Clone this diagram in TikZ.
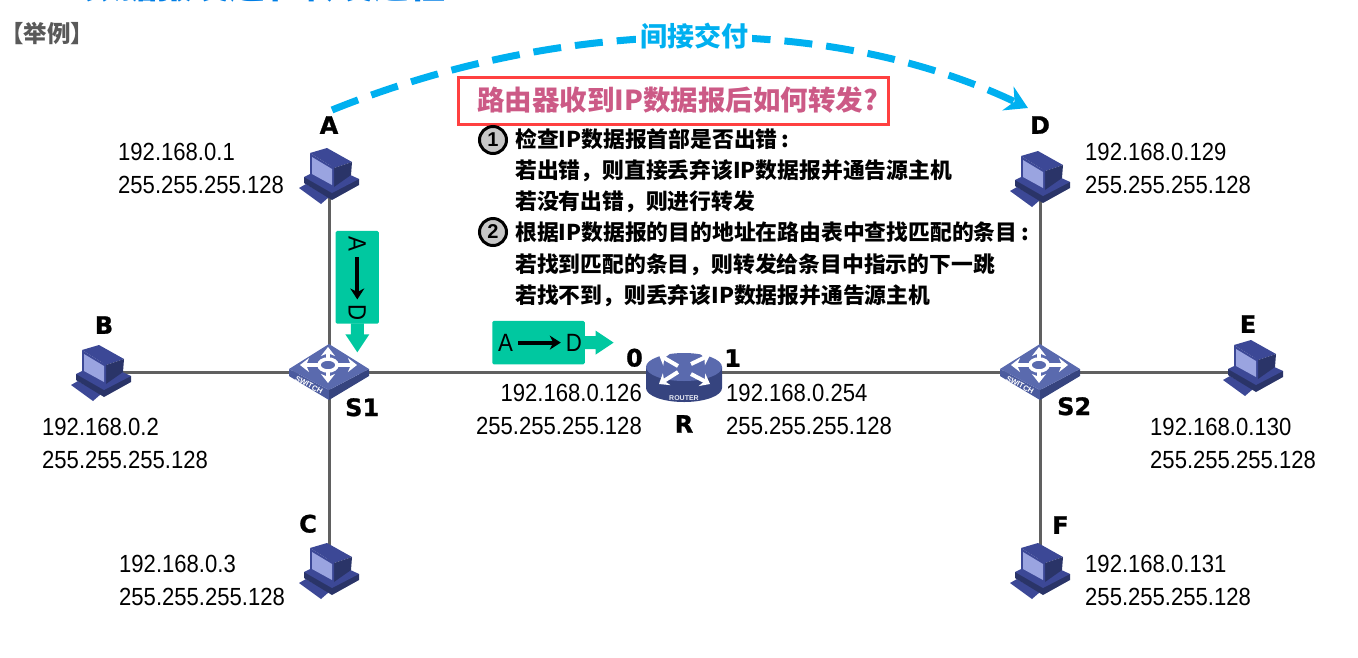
\documentclass[tikz,border=0pt]{standalone}
\usepackage{fontspec}
\setmainfont{Liberation Sans}
\newfontfamily\narrowfont{Liberation Sans}[FakeStretch=0.89]
\newfontfamily\cjkfont{Noto Sans CJK SC}
\newfontfamily\heavyfont{DejaVu Sans}[BoldFeatures={FakeBold=1}]
\usepackage{tikz}
\usetikzlibrary{positioning, arrows.meta}

\definecolor{wiregray}{HTML}{606060}
\definecolor{arcblue}{HTML}{00B0F0}
\definecolor{pktgreen}{HTML}{00C8A0}
\definecolor{askpink}{HTML}{CC5A86}
\definecolor{framered}{HTML}{FF4040}
\definecolor{devtop}{HTML}{5A6AAE}
\definecolor{devleft}{HTML}{4A5A9E}
\definecolor{devright}{HTML}{36447F}
\definecolor{pcframe}{HTML}{3C4896}
\definecolor{pcdark}{HTML}{2A3468}
\definecolor{pcscreen}{HTML}{9AA4E0}

\tikzset{
    wire/.style={draw=wiregray, line width=3pt},
    addr/.style={anchor=west, inner sep=0pt, align=left, font=\narrowfont\fontsize{24.8}{33}\selectfont},
    addrright/.style={addr, anchor=east, align=right},
    devlabel/.style={inner sep=0pt, font=\heavyfont\bfseries\fontsize{24}{24}\selectfont},
    steptext/.style={anchor=west, inner sep=0pt, align=left, font=\cjkfont\bfseries\fontsize{21.8}{31.2}\selectfont},
    stepmark/.style={circle, draw=black, line width=3pt, fill=black!22, inner sep=0pt, minimum size=27pt, font=\bfseries\fontsize{20}{20}\selectfont},
    pktbox/.style={fill=pktgreen, rounded corners=1.5pt, inner sep=0pt, minimum width=92.7pt, minimum height=43.3pt, transform shape},
    pktchar/.style={inner sep=2pt, transform shape, font=\narrowfont\fontsize{25}{25}\selectfont},
    whitearrow/.style={white, line width=4pt, -{Stealth[length=9pt,width=14pt]}},
    pc/.pic={
        \fill[pcframe] (-30,13) -- (-23,9) -- (0,22) -- (-8,29) -- cycle;
        \fill[pcdark] (-25,2) -- (-25,8) -- (3,25) -- (30,10) -- (30,4) -- cycle;
        \fill[pcframe] (-25,2) -- (0,-10) -- (30,4) -- (3,18) -- cycle;
        \fill[pcframe] (-19,-22) -- (-2,-27) -- (23,-13) -- (5,-7) -- cycle;
        \fill[pcdark] (5,-7) -- (23,-13) -- (22,0) -- (5,12) -- cycle;
        \fill[pcframe] (-19,-22) -- (5,-7) -- (5,12) -- (-19,-1) -- cycle;
        \fill[pcscreen] (-17,-18) -- (3,-6) -- (3,10) -- (-17,-1) -- cycle;
    },
    switchbox/.pic={
        \fill[devleft] (-40,-3) -- (0,18) -- (0,28) -- (-40,4) -- cycle;
        \fill[devright] (40,-3) -- (0,18) -- (0,28) -- (40,4) -- cycle;
        \fill[devtop] (0,-28) -- (40,-3) -- (0,18) -- (-40,-3) -- cycle;
        \draw[whitearrow, {Stealth[length=9pt,width=14pt]}-{Stealth[length=9pt,width=14pt]}] (-29,-7) -- (28,-7);
        \draw[whitearrow, {Stealth[length=9pt,width=14pt]}-{Stealth[length=9pt,width=14pt]}] (-1,-25) -- (-1,11);
        \draw[white, line width=3.5pt, fill=devtop] (-1,-7) ellipse (9 and 6);
        \node[white, rotate=-29, inner sep=0pt, font=\bfseries\fontsize{7.6}{8}\selectfont] (tag) at (-20,13) {SWITCH};
    },
    routerbox/.pic={
        \fill[devright] (-38,-5) -- (-38,16) arc[start angle=180, end angle=360, x radius=38, y radius=-14] -- (38,-5) -- cycle;
        \fill[devtop] (0,-5) ellipse (38 and 14);
        \draw[whitearrow] (-6,-6) -- (-25,-17);
        \draw[whitearrow] (7,-8) -- (26,-17);
        \draw[whitearrow] (-6,0) -- (-25,12);
        \draw[whitearrow] (7,2) -- (26,12);
        \node[white!85!devtop, inner sep=0pt, font=\bfseries\fontsize{7}{8}\selectfont] (tag) at (0,25.7) {ROUTER};
    },
    packet/.pic={
        \node[pktbox] (box) at (0,0) {};
        \fill[pktgreen] (46,-6.5) -- (57,-6.5) -- (57,-12) -- (75,0) -- (57,12) -- (57,6.5) -- (46,6.5) -- cycle;
        \node[pktchar] (src) at (-33,0) {A};
        \node[pktchar] (dst) at (35.4,0) {D};
        \draw[-{Stealth[length=11pt,width=14pt]}, line width=4pt, shorten <=3pt, shorten >=3pt] (src) -- (dst);
    },
}

\begin{document}
\begin{tikzpicture}[x=1pt, y=-1pt]
    \useasboundingbox (0,0) rectangle (1358,657);

    \node[text=blue!45!cyan!90!black, font=\cjkfont\bfseries\fontsize{36}{36}\selectfont] (pagetitle) at (265,-15) {数据报发送和转发过程};
    \node[anchor=west, inner sep=0pt, text=black!65, font=\cjkfont\bfseries\fontsize{23.5}{23.5}\selectfont] (example) at (0,33) {【举例】};

    \coordinate (hostA) at (329,175);
    \coordinate (hostB) at (101,372);
    \coordinate (hostC) at (329,570);
    \coordinate (hostD) at (1040,178);
    \coordinate (hostE) at (1253,372);
    \coordinate (hostF) at (1040,570);
    \coordinate (switchA) at (329,372);
    \coordinate (switchB) at (1040,372);
    \coordinate (router) at (684,372);

    \draw[wire] (hostA) -- (switchA);
    \draw[wire] (hostB) -- (switchA);
    \draw[wire] (hostC) -- (switchA);
    \draw[wire] (switchA) -- (router);
    \draw[wire] (router) -- (switchB);
    \draw[wire] (hostD) -- (switchB);
    \draw[wire] (hostE) -- (switchB);
    \draw[wire] (hostF) -- (switchB);

    \pic at (hostA) {pc};
    \pic at (hostB) {pc};
    \pic at (hostC) {pc};
    \pic at (hostD) {pc};
    \pic at ([yshift=5pt]hostE) {pc};
    \pic at (hostF) {pc};
    \pic (swA) at (switchA) {switchbox};
    \pic (swB) at (switchB) {switchbox};
    \pic (rt) at (router) {routerbox};

    \node[devlabel, above=41pt] (labelA) at (hostA) {A};
    \node[devlabel, above=38pt, xshift=3pt] (labelB) at (hostB) {B};
    \node[devlabel, above left=37pt and 12pt] (labelC) at (hostC) {C};
    \node[devlabel, above=44pt] (labelD) at (hostD) {D};
    \node[devlabel, above=39pt, xshift=-5pt] (labelE) at (hostE) {E};
    \node[devlabel, above right=36pt and 12pt] (labelF) at (hostF) {F};
    \node[devlabel, below right=26pt and 16pt] (labelS1) at (switchA) {S1};
    \node[devlabel, below right=25pt and 17pt] (labelS2) at (switchB) {S2};
    \node[devlabel, below=43pt] (labelR) at (router) {R};
    \node[devlabel, above left=5pt and 41pt] (port0) at (router) {0};
    \node[devlabel, above right=5pt and 40pt] (port1) at (router) {1};

    \node[addr] (addrA) at (118,168.5) {192.168.0.1\\255.255.255.128};
    \node[addr] (addrB) at (42,443.5) {192.168.0.2\\255.255.255.128};
    \node[addr] (addrC) at (119,580.5) {192.168.0.3\\255.255.255.128};
    \node[addr] (addrD) at (1085,168.5) {192.168.0.129\\255.255.255.128};
    \node[addr] (addrE) at (1150,443.5) {192.168.0.130\\255.255.255.128};
    \node[addr] (addrF) at (1085,580.5) {192.168.0.131\\255.255.255.128};
    \node[addrright] (addrR0) at (642,409.5) {192.168.0.126\\255.255.255.128};
    \node[addr] (addrR1) at (726,409.5) {192.168.0.254\\255.255.255.128};

    \pic[rotate=-90] (pktdown) at (357.3,277.3) {packet};
    \pic (pktright) at (538.6,342.6) {packet};

    \coordinate (arcstart) at (332,110);
    \coordinate (arcend) at (1028,108);
    \draw[draw=arcblue, line width=7pt, dash pattern=on 28pt off 14pt, -{Stealth[length=22pt,width=26pt]}] (arcstart) .. controls (570,14) and (830,14) .. (arcend);
    \node[fill=white, inner sep=4pt, text=arcblue, font=\cjkfont\bfseries\fontsize{27}{27}\selectfont] (indirect) at (694,36) {间接交付};

    \node[draw=framered, line width=3pt, minimum width=430pt, minimum height=47pt, inner sep=0pt, text=askpink, font=\cjkfont\bfseries\fontsize{27.5}{27.5}\selectfont] (question) at (673,100.5) {\hspace*{9pt}路由器收到IP数据报后如何转发?};

    \node[stepmark] (mark1) at (493,140) {1};
    \node[steptext] (step1) at (515,171) {检查IP数据报首部是否出错\,:\\若出错，则直接丢弃该IP数据报并通告源主机\\若没有出错，则进行转发};
    \node[stepmark] (mark2) at (493,232) {2};
    \node[steptext] (step2) at (515,264.5) {根据IP数据报的目的地址在路由表中查找匹配的条目\,:\\若找到匹配的条目，则转发给条目中指示的下一跳\\若找不到，则丢弃该IP数据报并通告源主机};
\end{tikzpicture}
\end{document}
